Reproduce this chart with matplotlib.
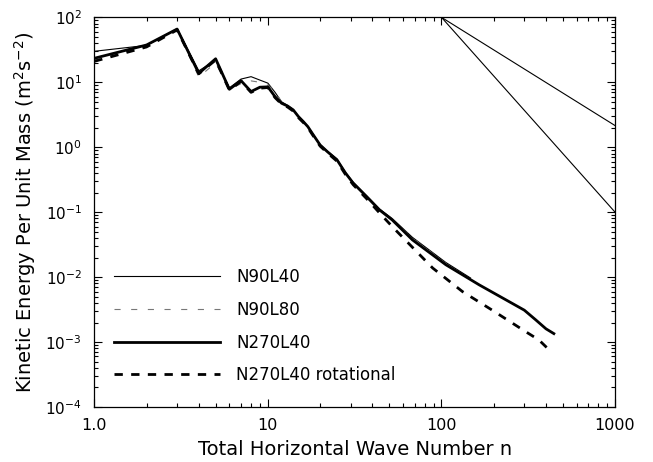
import numpy as np
import matplotlib
matplotlib.use('Agg')
import matplotlib.pyplot as plt
from matplotlib.ticker import LogLocator, FixedLocator, FixedFormatter, NullFormatter

# wave numbers / kinetic energy
n_n90l40 = [1, 2, 3, 4, 5, 6, 7, 8, 9, 10, 11, 12, 13, 14, 15, 16, 17, 18, 20, 22,
            25, 28, 31, 37, 44, 52, 68, 106, 147]
e_n90l40 = [30, 37, 67, 15, 22, 8.2, 11.2, 12.2, 10.8, 9.7, 7.0, 5.0, 4.4, 3.8, 3.0,
            2.5, 2.1, 1.65, 1.1, 0.87, 0.66, 0.41, 0.29, 0.18, 0.112, 0.08, 0.041,
            0.0168, 0.0097]

n_n90l80 = n_n90l40
e_n90l80 = [22, 35, 65, 12, 20, 7.8, 9.5, 10.5, 10.0, 9.0, 7.3, 4.9, 4.3, 3.7, 2.95,
            2.45, 2.05, 1.62, 1.07, 0.85, 0.64, 0.40, 0.28, 0.175, 0.11, 0.078, 0.04,
            0.0162, 0.0092]

n_n270l40 = [1, 2, 3, 4, 5, 6, 7, 8, 9, 10, 11, 12, 13, 14, 15, 16, 17, 18, 20, 22,
             25, 28, 31, 37, 44, 52, 68, 106, 165, 234, 300, 349, 400, 444]
e_n270l40 = [23.4, 37.5, 66, 13.7, 23, 7.8, 10.6, 7.2, 8.4, 8.5, 6.0, 4.75, 4.3, 3.75,
             2.96, 2.48, 2.07, 1.64, 1.08, 0.855, 0.64, 0.40, 0.28, 0.174, 0.108,
             0.076, 0.0375, 0.0155, 0.0076, 0.0045, 0.0031, 0.0022, 0.0016, 0.00135]

n_rot = [1, 2, 3, 4, 5, 6, 7, 8, 9, 10, 11, 12, 13, 14, 15, 16, 17, 18, 20, 22,
         25, 28, 31, 37, 45, 53, 89, 132, 196, 305, 364, 435]
e_rot = [21, 35, 64, 13.5, 22, 7.6, 10.3, 7.0, 8.1, 8.3, 5.8, 4.6, 4.15, 3.6, 2.85,
         2.4, 2.0, 1.58, 1.04, 0.82, 0.61, 0.38, 0.265, 0.162, 0.091, 0.057, 0.0138,
         0.006, 0.0031, 0.00145, 0.00108, 0.00068]

# reference slopes from (100, 100)
ref_n = np.array([100, 1000])
ref_slopes = [-5.0 / 3.0, -3.0]

xticks = [1, 10, 100, 1000]
xticklabels = ['1.0', '10', '100', '1000']
yticks = [1e-4, 1e-3, 1e-2, 1e-1, 1e0, 1e1, 1e2]
yticklabels = [r'$10^{-4}$', r'$10^{-3}$', r'$10^{-2}$', r'$10^{-1}$',
               r'$10^{0}$', r'$10^{1}$', r'$10^{2}$']

plt.rcParams['font.family'] = ['DejaVu Sans']
plt.rcParams['mathtext.fontset'] = 'dejavusans'

fig = plt.figure(figsize=(6.53, 4.62), dpi=100)
ax = fig.add_axes([0.1444, 0.119, 0.7975, 0.8435])

ax.plot(n_n90l40, e_n90l40, color='black', lw=0.8, label='N90L40')
ax.plot(n_n90l80, e_n90l80, color='#777777', lw=0.8, dashes=(5.5, 9.5), label='N90L80')
ax.plot(n_n270l40, e_n270l40, color='black', lw=2.0, label='N270L40')
ax.plot(n_rot, e_rot, color='black', lw=2.0, dashes=(3, 3), label='N270L40 rotational')

for s in ref_slopes:
    ax.plot(ref_n, 100 * (ref_n / 100.0) ** s, color='black', lw=0.8)

ax.set_xscale('log')
ax.set_yscale('log')
ax.set_xlim(1, 1000)
ax.set_ylim(1e-4, 1e2)

ax.xaxis.set_major_locator(FixedLocator(xticks))
ax.xaxis.set_major_formatter(FixedFormatter(xticklabels))
ax.yaxis.set_major_locator(FixedLocator(yticks))
ax.yaxis.set_major_formatter(FixedFormatter(yticklabels))
ax.xaxis.set_minor_locator(LogLocator(base=10, subs=np.arange(2, 10), numticks=20))
ax.yaxis.set_minor_locator(LogLocator(base=10, subs=np.arange(2, 10), numticks=20))
ax.xaxis.set_minor_formatter(NullFormatter())
ax.yaxis.set_minor_formatter(NullFormatter())

ax.tick_params(which='both', direction='in', top=True, right=True, width=0.8)
ax.tick_params(which='major', length=6)
ax.tick_params(which='minor', length=3)
ax.tick_params(axis='x', which='major', labelsize=11.5, pad=8)
ax.tick_params(axis='y', which='major', labelsize=11, pad=9)
for sp in ax.spines.values():
    sp.set_linewidth(0.9)

ax.set_xlabel('Total Horizontal Wave Number n', fontsize=14, labelpad=5)
ax.set_ylabel(r'Kinetic Energy Per Unit Mass (m$^2$s$^{-2}$)', fontsize=14, labelpad=5)

ax.legend(loc='upper left', bbox_to_anchor=(0.037, 0.356), frameon=False,
          handlelength=6.4, handletextpad=0.95, labelspacing=0.88, fontsize=12,
          borderpad=0, borderaxespad=0)

fig.savefig('out.png', dpi=100)
